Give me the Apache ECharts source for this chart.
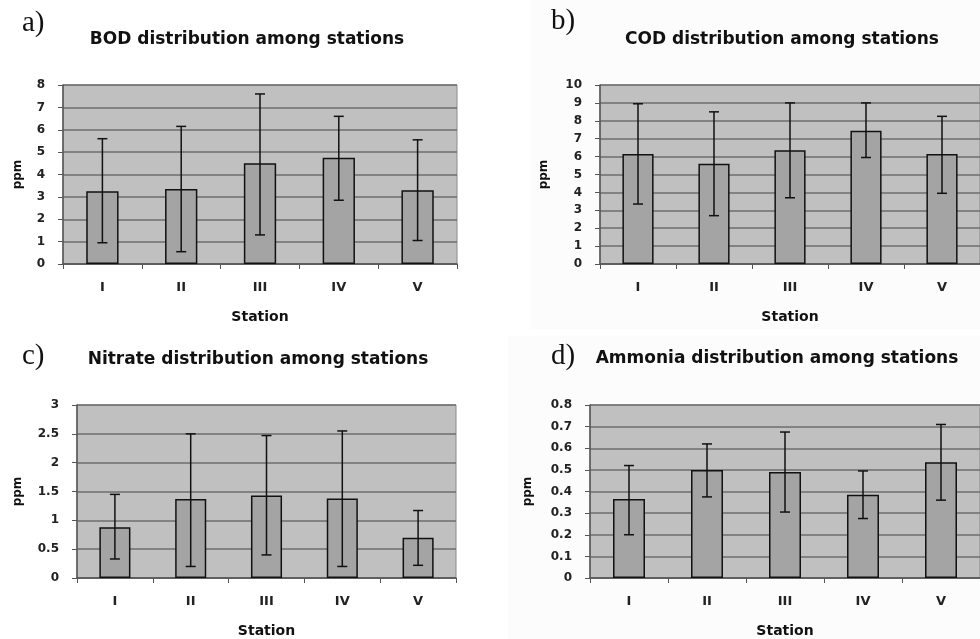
<!DOCTYPE html>
<html>
<head>
<meta charset="utf-8">
<script src="https://cdn.jsdelivr.net/npm/echarts@6/dist/echarts.min.js"></script>
<style>
  html, body { margin: 0; padding: 0; background: #fff; }
  #chart { width: 980px; height: 639px; }
</style>
</head>
<body>
<div id="chart"></div>
<script>
const stations = ['I', 'II', 'III', 'IV', 'V'];

// mean values and error bar ends
const bodMean = [3.25, 3.35, 4.5, 4.75, 3.3];
const bodLow = [0.95, 0.55, 1.3, 2.85, 1.05];
const bodHigh = [5.6, 6.15, 7.6, 6.6, 5.55];

const codMean = [6.15, 5.6, 6.35, 7.45, 6.15];
const codLow = [3.35, 2.7, 3.7, 5.95, 3.95];
const codHigh = [8.95, 8.5, 9.0, 9.0, 8.25];

const nitrateMean = [0.88, 1.37, 1.43, 1.38, 0.7];
const nitrateLow = [0.33, 0.2, 0.4, 0.2, 0.22];
const nitrateHigh = [1.45, 2.5, 2.47, 2.55, 1.17];

const ammoniaMean = [0.365, 0.5, 0.49, 0.385, 0.535];
const ammoniaLow = [0.2, 0.375, 0.305, 0.275, 0.36];
const ammoniaHigh = [0.52, 0.62, 0.675, 0.495, 0.71];

const titles = [
  'BOD distribution among stations',
  'COD distribution among stations',
  'Nitrate distribution among stations',
  'Ammonia distribution among stations'
];
const letters = ['a)', 'b)', 'c)', 'd)'];
const yMax = [8, 10, 3, 0.8];
const yStep = [1, 1, 0.5, 0.1];

const panels = [
  { mean: bodMean, low: bodLow, high: bodHigh },
  { mean: codMean, low: codLow, high: codHigh },
  { mean: nitrateMean, low: nitrateLow, high: nitrateHigh },
  { mean: ammoniaMean, low: ammoniaLow, high: ammoniaHigh }
];

// layout of each panel (pixels)
const grids = [
  { left: 63, top: 85, width: 394, height: 179 },
  { left: 600, top: 85, width: 387, height: 179 },
  { left: 77, top: 405, width: 379, height: 179 },
  { left: 590, top: 405, width: 399, height: 178 }
];
const titlePos = [[242, 26], [777, 26], [253, 346], [772, 345]];
const letterPos = [[22, 9], [551, 7], [22, 342], [551, 342]];
const ppmGap = [39, 50, 53, 56];

const font = '"DejaVu Sans", Verdana, sans-serif';

const errorBar = (params, api) => {
  const x = api.value(0);
  const lo = api.coord([x, api.value(1)]);
  const hi = api.coord([x, api.value(2)]);
  const cap = 5;
  const style = { stroke: '#111', lineWidth: 1.5 };
  return {
    type: 'group',
    children: [
      { type: 'line', shape: { x1: hi[0], y1: hi[1], x2: lo[0], y2: lo[1] }, style },
      { type: 'line', shape: { x1: hi[0] - cap, y1: hi[1], x2: hi[0] + cap, y2: hi[1] }, style },
      { type: 'line', shape: { x1: lo[0] - cap, y1: lo[1], x2: lo[0] + cap, y2: lo[1] }, style }
    ]
  };
};

const option = {
  backgroundColor: '#fff',
  animation: false,
  title: titles.map((t, i) => ({
    text: t,
    left: titlePos[i][0],
    top: titlePos[i][1],
    textAlign: 'center',
    textStyle: { fontFamily: font, fontSize: 17, fontWeight: 'bold', color: '#111' }
  })),
  graphic: [
    // faint off-white backing of the right-hand panels
    { type: 'rect', left: 531, top: 0, z: -10, shape: { width: 449, height: 329 }, style: { fill: '#fcfcfc' } },
    { type: 'rect', left: 508, top: 336, z: -10, shape: { width: 472, height: 303 }, style: { fill: '#fcfcfc' } },
    ...letters.map((l, i) => ({
      type: 'text',
      left: letterPos[i][0],
      top: letterPos[i][1],
      style: { text: l, font: '29px "Liberation Serif", "Times New Roman", serif', fill: '#111' }
    }))
  ],
  grid: grids.map((g) => ({
    ...g,
    show: true,
    backgroundColor: '#c0c0c0',
    borderColor: '#8a8a8a',
    borderWidth: 1
  })),
  xAxis: grids.map((g, i) => ({
    type: 'category',
    gridIndex: i,
    data: stations,
    name: 'Station',
    nameLocation: 'middle',
    nameGap: 46,
    nameTextStyle: { fontFamily: font, fontSize: 14, fontWeight: 'bold', color: '#111' },
    axisLine: { lineStyle: { color: '#555', width: 1.5 } },
    axisTick: { show: true, length: 5, lineStyle: { color: '#555' } },
    axisLabel: { margin: 17, fontFamily: font, fontSize: 13, fontWeight: 'bold', color: '#222' }
  })),
  yAxis: grids.map((g, i) => ({
    type: 'value',
    gridIndex: i,
    min: 0,
    max: yMax[i],
    interval: yStep[i],
    name: 'ppm',
    nameLocation: 'middle',
    nameRotate: 90,
    nameGap: ppmGap[i],
    nameTextStyle: { fontFamily: font, fontSize: 12, fontWeight: 'bold', color: '#111' },
    axisLine: { show: true, lineStyle: { color: '#555', width: 1.5 } },
    axisTick: { show: true, length: 5, lineStyle: { color: '#555' } },
    axisLabel: { margin: 18, fontFamily: font, fontSize: 12, fontWeight: 'bold', color: '#222' },
    splitLine: { lineStyle: { color: '#6e6e6e', width: 1.5 } }
  })),
  series: panels.flatMap((p, i) => [
    {
      type: 'bar',
      xAxisIndex: i,
      yAxisIndex: i,
      data: p.mean,
      barWidth: '41%',
      itemStyle: { color: '#a4a4a4', borderColor: '#111', borderWidth: 1.5 }
    },
    {
      type: 'custom',
      xAxisIndex: i,
      yAxisIndex: i,
      renderItem: errorBar,
      data: stations.map((s, k) => [k, p.low[k], p.high[k]]),
      z: 10
    }
  ])
};

const chart = echarts.init(document.getElementById('chart'));
chart.setOption(option);
</script>
</body>
</html>
